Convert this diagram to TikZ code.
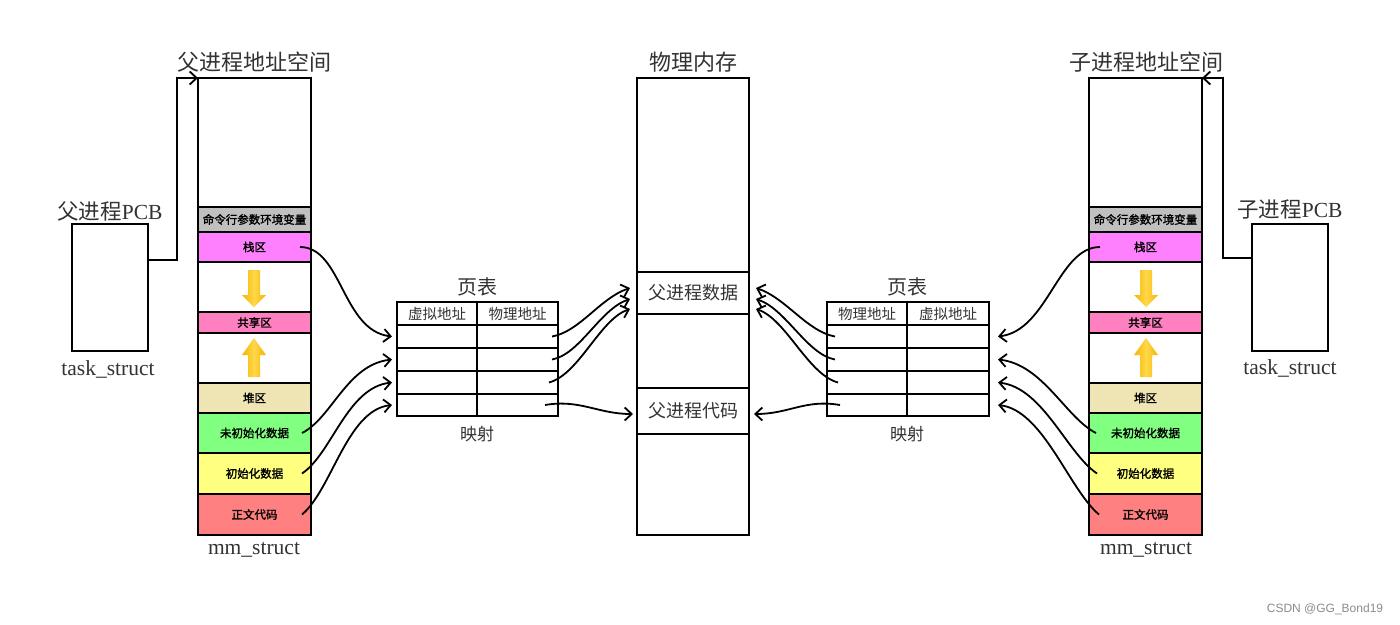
\documentclass[tikz,border=0pt]{standalone}
\usepackage{fontspec}
\setmainfont{Liberation Serif}
\newfontfamily\cjk{Noto Sans CJK SC}
\newfontfamily\cjkb[FakeBold=1.5]{Noto Sans CJK SC}
\newfontfamily\wmfont{Liberation Sans}
\usetikzlibrary{arrows.meta,calc}
\definecolor{cgray}{HTML}{C0C0C0}
\definecolor{cstackc}{HTML}{FF80FF}
\definecolor{cshare}{HTML}{FF80C0}
\definecolor{cheap}{HTML}{EEE4B4}
\definecolor{cbssc}{HTML}{80FF80}
\definecolor{cdatac}{HTML}{FFFF80}
\definecolor{ctextc}{HTML}{FF8080}
\definecolor{gold}{HTML}{F5B400}
\definecolor{goldl}{HTML}{FFD84A}
\definecolor{txtg}{HTML}{333333}
\begin{document}
\begin{tikzpicture}[x=1pt,y=-1pt,
  box/.style={draw, line width=2.2pt, anchor=north west, inner sep=0pt, outer sep=0pt, minimum width=113pt,
              font=\cjkb\fontsize{11.5}{12}\selectfont},
  cell/.style={draw, line width=2.2pt, anchor=north west, inner sep=0pt, outer sep=0pt, minimum height=23pt,
              font=\cjk\fontsize{14.5}{15}\selectfont, text=txtg},
  memb/.style={box, minimum width=112pt, font=\cjk\fontsize{18}{20}\selectfont, text=txtg},
  pcb/.style={draw, line width=2.2pt, anchor=north west, inner sep=0pt, outer sep=0pt, minimum width=76pt, minimum height=127pt},
  title/.style={font=\cjk\fontsize{22}{24}\selectfont, inner sep=0pt, text=txtg},
  lat/.style={font=\fontsize{21.5}{24}\selectfont, inner sep=0pt, text=txtg},
  conn/.style={line width=1.8pt, -{Straight Barb[length=7pt,width=13pt,line width=1.8pt]}},
  yarrow/.style={left color=gold, right color=gold, middle color=goldl, draw=none}
]
\useasboundingbox (0,0) rectangle (1400,624);
\fill[white] (0,0) rectangle (1400,624);

% ---------------- parent address space ----------------
\node[title] (ptitle) at (254,62) {父进程地址空间};
\node[box, minimum height=129pt] (ptop) at (198,78) {};
\node[box, minimum height=25pt, fill=cgray] (pargs) at (198,207) {命令行参数环境变量};
\node[box, minimum height=30pt, fill=cstackc] (pstack) at (198,232) {栈区};
\node[box, minimum height=50pt] (pgap1) at (198,262) {};
\node[box, minimum height=21pt, fill=cshare] (pshare) at (198,312) {共享区};
\node[box, minimum height=50pt] (pgap2) at (198,333) {};
\node[box, minimum height=30pt, fill=cheap] (pheap) at (198,383) {堆区};
\node[box, minimum height=40pt, fill=cbssc] (pbss) at (198,413) {未初始化数据};
\node[box, minimum height=41pt, fill=cdatac] (pdata) at (198,453) {初始化数据};
\node[box, minimum height=41pt, fill=ctextc] (ptext) at (198,494) {正文代码};
\node[lat] (pmm) at (254,550) {mm\_struct};
\shade[yarrow] (248,270) -- (260,270) -- (260,295) -- (266,295) -- (254,307) -- (242,295) -- (248,295) -- cycle;
\shade[yarrow] (248,377) -- (260,377) -- (260,355) -- (266,355) -- (254,338) -- (242,355) -- (248,355) -- cycle;

% parent PCB
\node[lat] (ppcbt) at (110,211) {{\cjk 父进程}PCB};
\node[pcb] (ppcb) at (72,224) {};
\node[lat] (ptask) at (108,369) {task\_struct};
\draw[conn] ([yshift=-36pt]ppcb.north east) -- ++(29,0) |- (ptop.north west);

% ---------------- child address space ----------------
\node[title] (ctitle) at (1146,62) {子进程地址空间};
\node[box, minimum height=129pt] (ctop) at (1089,78) {};
\node[box, minimum height=25pt, fill=cgray] (cargs) at (1089,207) {命令行参数环境变量};
\node[box, minimum height=30pt, fill=cstackc] (cstack) at (1089,232) {栈区};
\node[box, minimum height=50pt] (cgap1) at (1089,262) {};
\node[box, minimum height=21pt, fill=cshare] (cshare) at (1089,312) {共享区};
\node[box, minimum height=50pt] (cgap2) at (1089,333) {};
\node[box, minimum height=30pt, fill=cheap] (cheap) at (1089,383) {堆区};
\node[box, minimum height=40pt, fill=cbssc] (cbss) at (1089,413) {未初始化数据};
\node[box, minimum height=41pt, fill=cdatac] (cdata) at (1089,453) {初始化数据};
\node[box, minimum height=41pt, fill=ctextc] (ctext) at (1089,494) {正文代码};
\node[lat] (cmm) at (1146,550) {mm\_struct};
\shade[yarrow] (1140,270) -- (1152,270) -- (1152,295) -- (1158,295) -- (1146,307) -- (1134,295) -- (1140,295) -- cycle;
\shade[yarrow] (1140,377) -- (1152,377) -- (1152,355) -- (1158,355) -- (1146,338) -- (1134,355) -- (1140,355) -- cycle;

% child PCB
\node[lat] (cpcbt) at (1290,209) {{\cjk 子进程}PCB};
\node[pcb] (cpcb) at (1252,224) {};
\node[lat] (ctask) at (1290,368) {task\_struct};
\draw[conn] ([yshift=-34pt]cpcb.north west) -- ++(-29,0) |- (ctop.north east);

% ---------------- physical memory ----------------
\node[title] (mtitle) at (693,62) {物理内存};
\node[memb, minimum height=194pt] (mtop) at (637,78) {};
\node[memb, minimum height=42pt] (mdata) at (637,272) {父进程数据};
\node[memb, minimum height=74pt] (mmid) at (637,314) {};
\node[memb, minimum height=46pt] (mcode) at (637,388) {父进程代码};
\node[memb, minimum height=101pt] (mbot) at (637,434) {};

% ---------------- left page table ----------------
\node[title, font=\cjk\fontsize{20}{22}\selectfont] (ltitle) at (477,287) {页表};
\node[cell, minimum width=80pt] (L0a) at (397,302) {虚拟地址};
\node[cell, minimum width=81pt] (L0b) at (477,302) {物理地址};
\node[cell, minimum width=80pt] (L1a) at (397,325) {};
\node[cell, minimum width=81pt] (L1b) at (477,325) {};
\node[cell, minimum width=80pt] (L2a) at (397,348) {};
\node[cell, minimum width=81pt] (L2b) at (477,348) {};
\node[cell, minimum width=80pt] (L3a) at (397,371) {};
\node[cell, minimum width=81pt] (L3b) at (477,371) {};
\node[cell, minimum width=80pt, minimum height=22pt] (L4a) at (397,394) {};
\node[cell, minimum width=81pt, minimum height=22pt] (L4b) at (477,394) {};
\node[title, font=\cjk\fontsize{17}{19}\selectfont] (lmap) at (477,434) {映射};

% ---------------- right page table ----------------
\node[title, font=\cjk\fontsize{20}{22}\selectfont] (rtitle) at (907,287) {页表};
\node[cell, minimum width=80pt] (R0a) at (827,302) {物理地址};
\node[cell, minimum width=82pt] (R0b) at (907,302) {虚拟地址};
\node[cell, minimum width=80pt] (R1a) at (827,325) {};
\node[cell, minimum width=82pt] (R1b) at (907,325) {};
\node[cell, minimum width=80pt] (R2a) at (827,348) {};
\node[cell, minimum width=82pt] (R2b) at (907,348) {};
\node[cell, minimum width=80pt] (R3a) at (827,371) {};
\node[cell, minimum width=82pt] (R3b) at (907,371) {};
\node[cell, minimum width=80pt, minimum height=22pt] (R4a) at (827,394) {};
\node[cell, minimum width=82pt, minimum height=22pt] (R4b) at (907,394) {};
\node[title, font=\cjk\fontsize{17}{19}\selectfont] (rmap) at (907,434) {映射};

% ---------------- connectors: parent -> left table ----------------
\draw[conn] ([xshift=-11pt]pstack.east) .. controls +(42,0) and +(-50,-6) .. ([xshift=-5pt]L1a.west);
\draw[conn] ([xshift=-9pt]pbss.east) .. controls +(30,-15) and +(-45,5) .. ([xshift=-5pt]L2a.west);
\draw[conn] ([xshift=-9pt]pdata.east) .. controls +(30,-20) and +(-45,5) .. ([xshift=-5pt]L3a.west);
\draw[conn] ([xshift=-9pt]ptext.east) .. controls +(30,-25) and +(-45,5) .. ([xshift=-5pt]L4a.west);

% left table -> memory
\draw[conn] ([xshift=-6pt]L1b.east) .. controls +(28,-5) and +(-30,10) .. ([shift={(-7pt,5pt)}]mdata.west);
\draw[conn] ([xshift=-6pt]L2b.east) .. controls +(28,-5) and +(-30,10) .. ([shift={(-7pt,-6pt)}]mdata.west);
\draw[conn] ([xshift=-9pt]L3b.east) .. controls +(30,-8) and +(-30,10) .. ([shift={(-7pt,-16pt)}]mdata.west);
\draw[conn] ([xshift=-13pt]L4b.east) .. controls +(35,-6) and +(-35,0) .. ([shift={(-4pt,-3pt)}]mcode.west);

% right table -> memory
\draw[conn] ([xshift=8pt]R1a.west) .. controls +(-28,-5) and +(30,10) .. ([shift={(7pt,5pt)}]mdata.east);
\draw[conn] ([xshift=8pt]R2a.west) .. controls +(-28,-5) and +(30,10) .. ([shift={(7pt,-6pt)}]mdata.east);
\draw[conn] ([xshift=11pt]R3a.west) .. controls +(-30,-8) and +(30,10) .. ([shift={(7pt,-16pt)}]mdata.east);
\draw[conn] ([xshift=13pt]R4a.west) .. controls +(-35,-6) and +(35,0) .. ([shift={(5pt,-3pt)}]mcode.east);

% child -> right table
\draw[conn] ([xshift=11pt]cstack.west) .. controls +(-42,0) and +(50,-6) .. ([xshift=9pt]R1b.east);
\draw[conn] ([xshift=7pt]cbss.west) .. controls +(-30,-15) and +(45,5) .. ([xshift=9pt]R2b.east);
\draw[conn] ([xshift=8pt]cdata.west) .. controls +(-30,-20) and +(45,5) .. ([xshift=9pt]R3b.east);
\draw[conn] ([xshift=10pt]ctext.west) .. controls +(-30,-25) and +(45,5) .. ([xshift=9pt]R4b.east);

% watermark
\node[font=\wmfont\fontsize{12}{14}\selectfont, text=black!45, inner sep=0pt] (wm) at (1325,609) {CSDN @GG\_Bond19};
\end{tikzpicture}
\end{document}
